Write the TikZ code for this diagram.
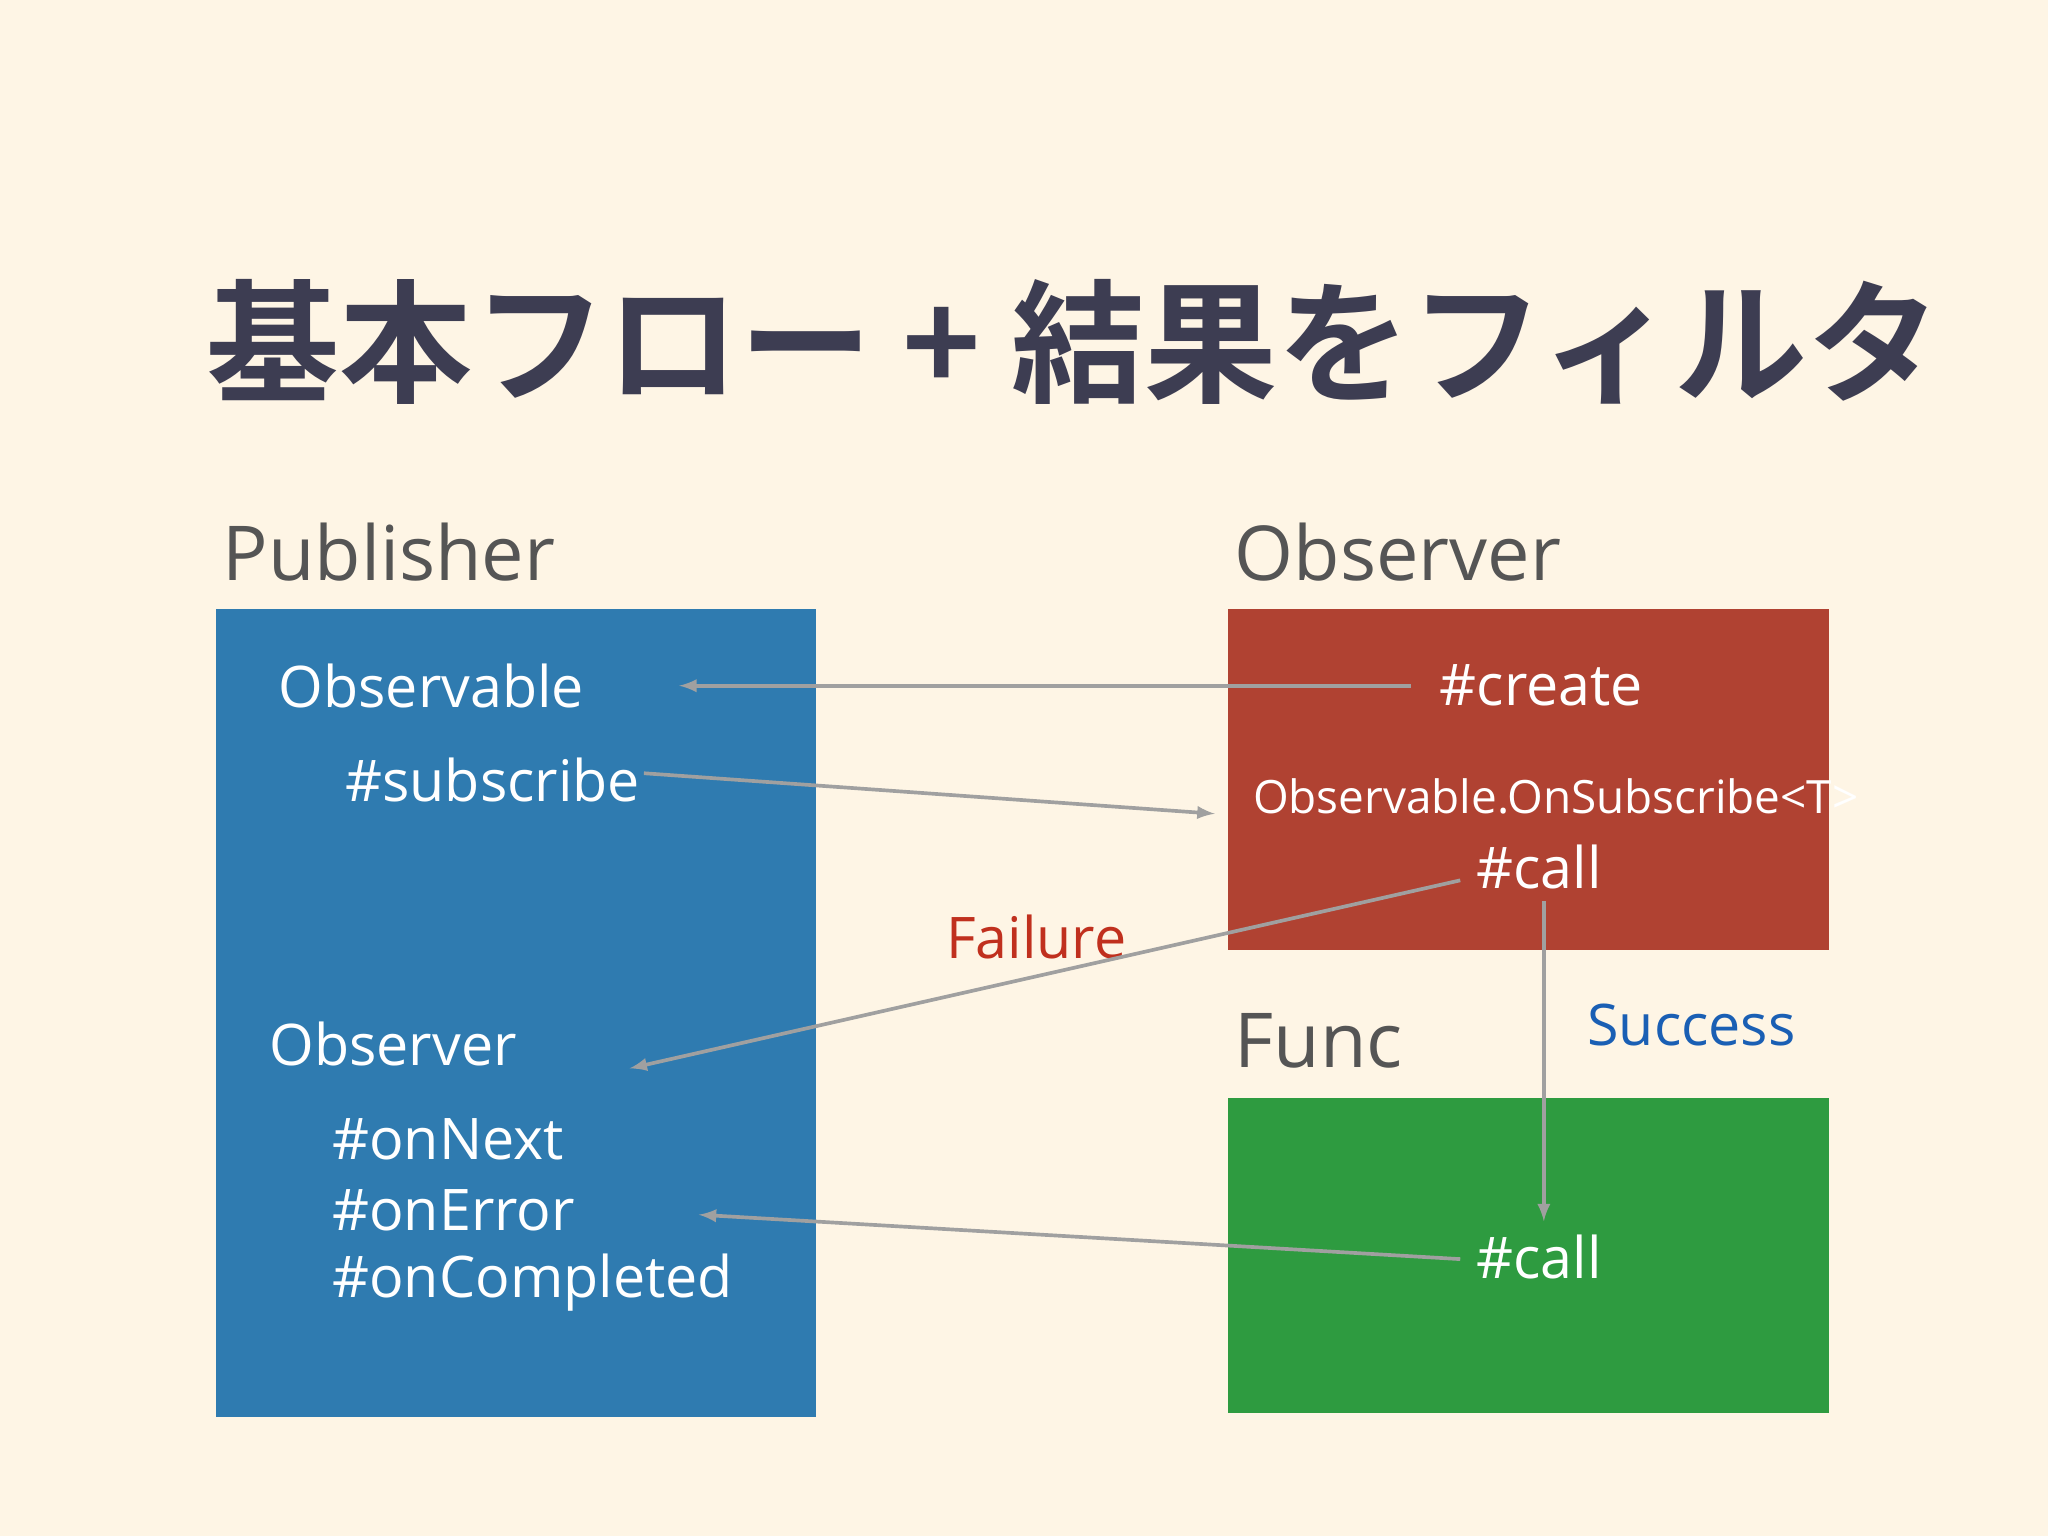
\documentclass[tikz,border=0pt]{standalone}
\usepackage{fontspec}
\setmainfont{Open Sans}
\newfontfamily\cjk{Noto Sans CJK JP Bold}
\definecolor{bg}{HTML}{FEF5E5}
\definecolor{ttl}{HTML}{3D3D52}
\definecolor{lbl}{HTML}{555555}
\definecolor{pblue}{HTML}{2F7BB0}
\definecolor{pred}{HTML}{B04232}
\definecolor{pgreen}{HTML}{2E9B40}
\definecolor{arr}{HTML}{A0A0A0}
\definecolor{fail}{HTML}{C0301E}
\definecolor{succ}{HTML}{1A5FB4}
\tikzset{
  wt/.style={anchor=west,text=white,inner sep=0pt,font=\fontsize{25}{30}\selectfont},
  hd/.style={anchor=west,text=lbl,inner sep=0pt,font=\fontsize{33}{40}\selectfont},
  ar/.style={draw=arr,line width=1.6pt,-latex},
}
\begin{document}
\begin{tikzpicture}[x=0.02cm,y=-0.02cm]
\fill[bg] (0,0) rectangle (1568,1176);
\useasboundingbox (0,0) rectangle (1568,1176);
\node[anchor=west,text=ttl,inner sep=0pt,font=\cjk\fontsize{58}{64}\selectfont] (title) at (158,262) {基本フロー + 結果をフィルタ};
\node[hd] (pub) at (170,423) {Publisher};
\node[hd] (obsh) at (945,423) {Observer};
\node[hd] (func) at (945,797) {Func};
\fill[pblue] (165,466) rectangle (625,1085);
\fill[pred] (940,466) rectangle (1400,727);
\fill[pgreen] (940,841) rectangle (1400,1082);
\node[wt] (observable) at (213,525) {Observable};
\node[wt] (subscribe) at (264,597) {\#subscribe};
\node[wt] (observer) at (206,799) {Observer};
\node[wt] (onnext) at (254,872) {\#onNext};
\node[wt] (onerror) at (254,927) {\#onError};
\node[wt] (oncompl) at (254,982) {\#onCompleted};
\node[wt] (create) at (1102,525) {\#create};
\node[wt,font=\fontsize{20}{24}\selectfont] (onsub) at (959,610) {Observable.OnSubscribe<T>};
\node[wt] (call1) at (1130,664) {\#call};
\node[wt] (call2) at (1130,962) {\#call};
\node[anchor=west,inner sep=0pt,text=fail,font=\fontsize{25}{30}\selectfont] (failure) at (724,717) {Failure};
\node[anchor=west,inner sep=0pt,text=succ,font=\fontsize{25}{30}\selectfont] (success) at (1215,785) {Success};
\coordinate (a1s) at (1080,525); \coordinate (a1e) at (520,525);
\coordinate (a2s) at (493,592); \coordinate (a2e) at (930,623);
\coordinate (a3s) at (1118,674); \coordinate (a3e) at (482,818);
\coordinate (a4s) at (1182,690); \coordinate (a4e) at (1182,935);
\coordinate (a5s) at (1118,964); \coordinate (a5e) at (535,930);
\draw[ar] (a1s) -- (a1e);
\draw[ar] (a2s) -- (a2e);
\draw[ar] (a3s) -- (a3e);
\draw[ar] (a4s) -- (a4e);
\draw[ar] (a5s) -- (a5e);
\end{tikzpicture}
\end{document}
